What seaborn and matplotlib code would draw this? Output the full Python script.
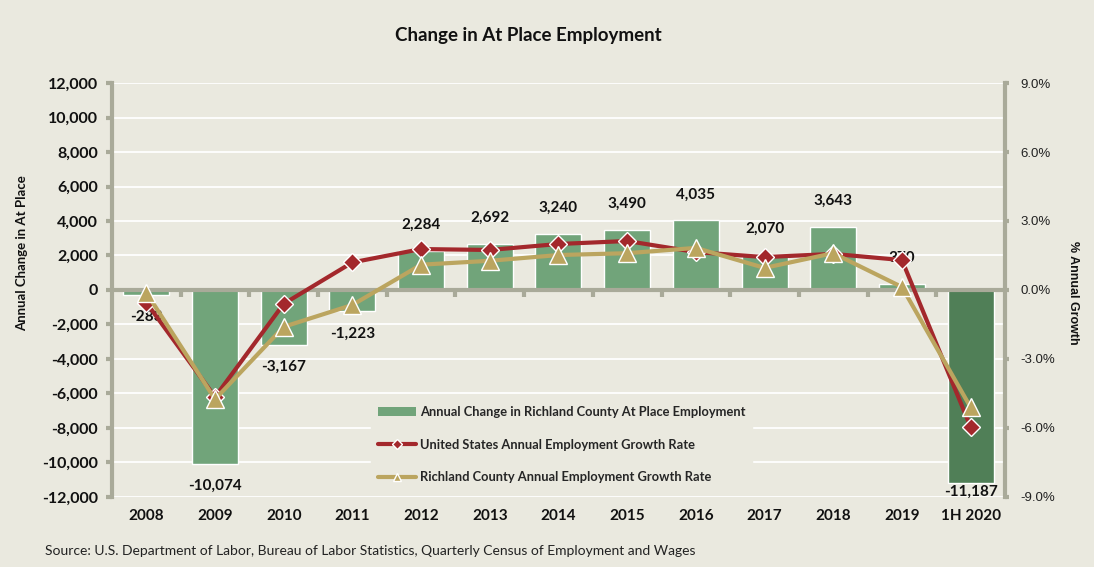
import matplotlib
matplotlib.use("Agg")
import matplotlib.pyplot as plt
from matplotlib.lines import Line2D
from matplotlib.patches import Patch
from matplotlib.ticker import FuncFormatter
import numpy as np
import pandas as pd
import seaborn as sns

# data
years = ['2008', '2009', '2010', '2011', '2012', '2013', '2014', '2015',
         '2016', '2017', '2018', '2019', '1H 2020']
county_change = [-283, -10074, -3167, -1223, 2284, 2692, 3240, 3490,
                 4035, 2070, 3643, 370, -11187]
us_growth = [-0.55, -4.65, -0.6, 1.2, 1.78, 1.74, 2.0, 2.13,
             1.65, 1.43, 1.57, 1.3, -5.95]
county_growth = [-0.12, -4.75, -1.6, -0.65, 1.1, 1.27, 1.52, 1.6,
                 1.83, 0.96, 1.6, 0.13, -5.1]

bg = '#EAE9DF'
axis_gray = '#A9AA99'
bar_green = '#71A47A'
bar_dark = '#507F57'
us_red = '#A3282C'
county_tan = '#BBA55F'
text_col = '#111111'

df = pd.DataFrame({'year': years, 'change': county_change,
                   'us': us_growth, 'county': county_growth,
                   'pos': np.arange(len(years))})

sns.set_style('white')
plt.rcParams['font.family'] = ['Lato', 'DejaVu Sans']

fig = plt.figure(figsize=(10.94, 5.67), dpi=100, facecolor=bg)
ax = fig.add_axes([0.1024, 0.1235, 0.8162, 0.7301])
ax.set_facecolor(bg)

bar_colors = [bar_green] * (len(years) - 1) + [bar_dark]
sns.barplot(data=df, x='year', y='change', hue='year', palette=bar_colors,
            width=0.67, saturation=1, legend=False, ax=ax, zorder=2)

ax.set_ylim(-12000, 12000)
ax.set_xlim(-0.5, len(years) - 0.5)
ax.set_yticks(np.arange(-12000, 12001, 2000))
ax.yaxis.set_major_formatter(FuncFormatter(lambda v, p: f'{int(v):,}'))
ax.yaxis.grid(True, color='white', lw=1.3)
ax.set_axisbelow(True)
ax.set_xlabel('')
ax.set_ylabel('')

for s in ['top', 'bottom', 'right']:
    ax.spines[s].set_visible(False)
ax.spines['left'].set_color(axis_gray)
ax.spines['left'].set_linewidth(3)
ax.tick_params(axis='y', colors=axis_gray, length=4, width=3, pad=6,
               labelcolor=text_col, labelsize=11.5)
ax.tick_params(axis='x', length=0, pad=9, labelcolor=text_col, labelsize=11)
for t in ax.get_yticklabels() + ax.get_xticklabels():
    t.set_fontweight('bold')

# category axis crossing at zero with tick marks between categories
ax.axhline(0, color=axis_gray, lw=3, zorder=3)
ax.vlines(np.arange(0.5, len(years) - 1, 1), -380, 0, color=axis_gray,
          lw=3, zorder=3)

# data labels
for i, v in enumerate(county_change):
    y = v + 1500 if v > 0 else max(v - 1300, -11700)
    ax.text(i, y, f'{v:,}', ha='center', va='center', fontsize=11,
            fontweight='bold', color=text_col, zorder=4)

ax2 = ax.twinx()
sns.lineplot(data=df, x='pos', y='us', ax=ax2, color=us_red, lw=3,
             marker='D', markersize=9, markeredgecolor='white',
             markeredgewidth=1, sort=False)
sns.lineplot(data=df, x='pos', y='county', ax=ax2, color=county_tan, lw=3,
             marker='^', markersize=13, markeredgecolor='white',
             markeredgewidth=1, sort=False)
ax2.set_ylim(-9, 9)
ax2.set_xlim(-0.5, len(years) - 0.5)
ax2.set_yticks(np.arange(-9, 9.1, 3))
ax2.yaxis.set_major_formatter(FuncFormatter(lambda v, p: f'{v:.1f}%'))
ax2.set_xlabel('')
ax2.set_ylabel('')
for s in ['top', 'bottom', 'left']:
    ax2.spines[s].set_visible(False)
ax2.spines['right'].set_color(axis_gray)
ax2.spines['right'].set_linewidth(3)
ax2.tick_params(axis='y', colors=axis_gray, length=3, width=3, pad=8,
                labelcolor='#222222', labelsize=9.5)
for t in ax2.get_yticklabels():
    t.set_fontfamily('Liberation Sans')

handles = [
    Patch(facecolor=bar_green, edgecolor='none'),
    Line2D([0], [0], color=us_red, lw=3, marker='D', markersize=5,
           markerfacecolor=us_red, markeredgecolor='white'),
    Line2D([0], [0], color=county_tan, lw=3, marker='^', markersize=6,
           markerfacecolor=county_tan, markeredgecolor='white'),
]
labels = ['Annual Change in Richland County At Place Employment',
          'United States Annual Employment Growth Rate',
          'Richland County Annual Employment Growth Rate']
leg = ax2.legend(handles, labels, loc='upper left',
                 bbox_to_anchor=(0.283, 0.25), frameon=True,
                 facecolor=bg, edgecolor=bg, framealpha=1, fancybox=False,
                 prop={'weight': 'bold', 'size': 9.3}, handlelength=3.0,
                 labelspacing=1.58, handletextpad=0.3, borderpad=0.5)
leg.set_zorder(10)

fig.text(0.483, 0.938, 'Change in At Place Employment', ha='center',
         va='center', fontsize=13.5, fontweight='bold', color=text_col)
fig.text(0.02, 0.554, 'Annual Change in At Place', rotation=90,
         ha='center', va='center', fontsize=9.5, fontweight='bold',
         color=text_col)
fig.text(0.981, 0.483, '% Annual Growth', rotation=270, ha='center',
         va='center', fontsize=9, fontweight='bold', color=text_col,
         family='Liberation Sans')
fig.text(0.041, 0.028, 'Source: U.S. Department of Labor, Bureau of Labor '
         'Statistics, Quarterly Census of Employment and Wages',
         ha='left', va='center', fontsize=10, color='#222222')

fig.savefig('out.png', dpi=100, facecolor=bg)
